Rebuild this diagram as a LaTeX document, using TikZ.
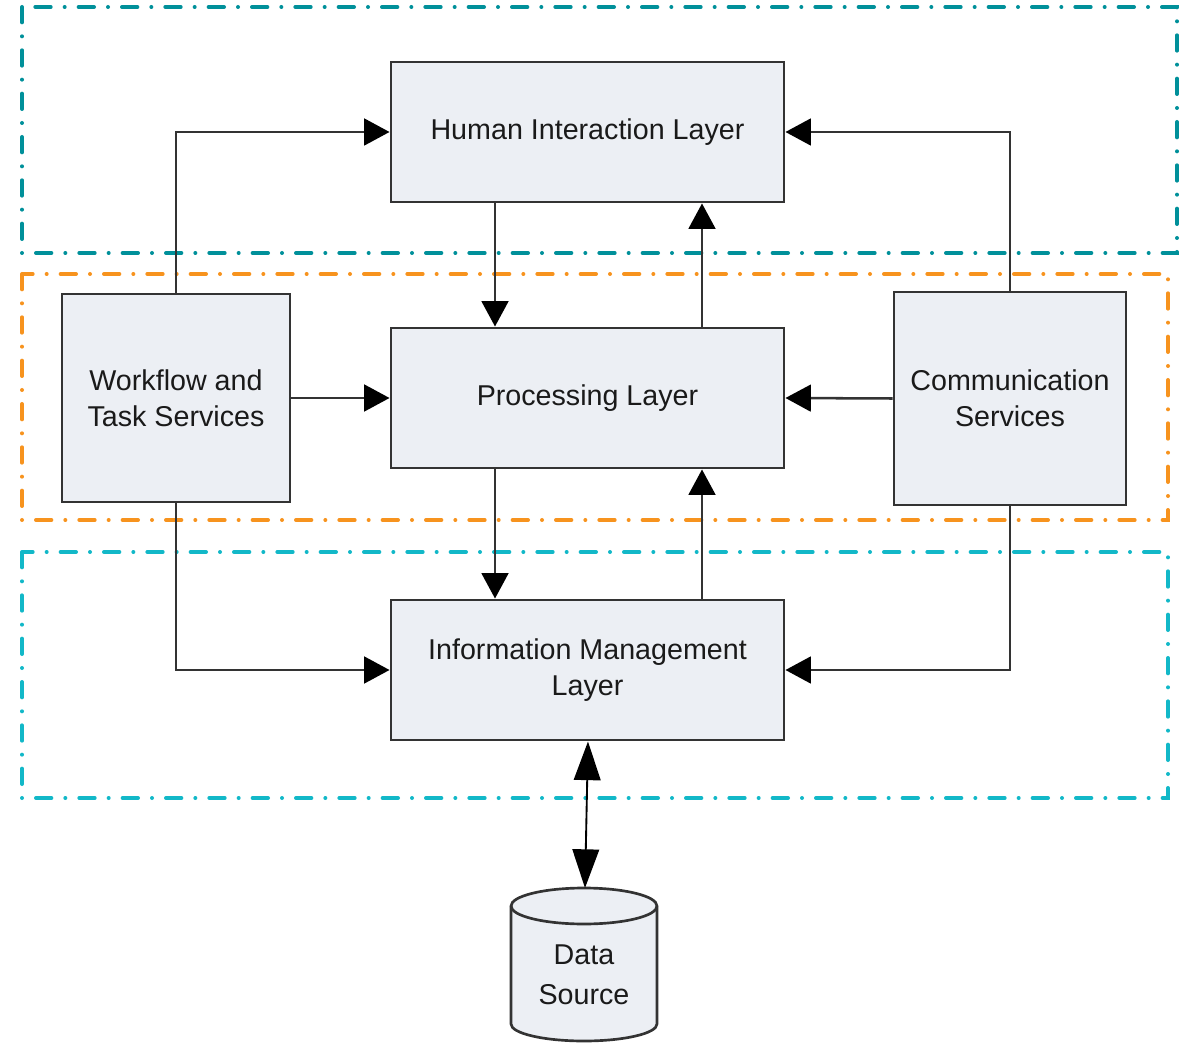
\documentclass[tikz,border=0pt]{standalone}
\usepackage{fontspec}
\setmainfont{Liberation Sans}
\usetikzlibrary{arrows.meta}
\definecolor{boxfill}{HTML}{ECEFF4}
\definecolor{boxline}{HTML}{333333}
\definecolor{teal1}{HTML}{00909A}
\definecolor{orange1}{HTML}{F7931E}
\definecolor{cyan1}{HTML}{12B8C8}
\definecolor{txt}{HTML}{1A1A1A}
\begin{document}
\begin{tikzpicture}[x=0.75pt,y=-0.75pt,
  layerbox/.style={draw=boxline,fill=boxfill,line width=2.2pt,
    text=txt,align=center,font=\fontsize{21.5}{27}\selectfont,inner sep=0pt},
  frame/.style={line width=3pt,line cap=round,
    dash pattern=on 11.5pt off 10.5pt on 0pt off 10.5pt},
  conn/.style={draw=boxline,line width=1.9pt,
    -{Triangle[length=19pt,width=20pt,color=black]}},
  dbl/.style={draw=black,line width=1.4pt,
    {Triangle[length=29pt,width=20pt]}-{Triangle[length=29pt,width=20pt]}}]
\useasboundingbox (0,0) rectangle (1185,1044);
% frames
\draw[frame,teal1] (22,7) rectangle (1177,253);
\draw[frame,orange1] (22,274) rectangle (1168,520);
\draw[frame,cyan1] (22,552) rectangle (1168,798);
% boxes
\node[layerbox,minimum width=393*0.75pt,minimum height=140*0.75pt] (hil) at (587.5,132) {Human Interaction Layer};
\node[layerbox,minimum width=393*0.75pt,minimum height=140*0.75pt] (pl) at (587.5,398) {Processing Layer};
\node[layerbox,minimum width=393*0.75pt,minimum height=140*0.75pt] (iml) at (587.5,670) {Information Management\\Layer};
\node[layerbox,minimum width=228*0.75pt,minimum height=208*0.75pt] (wf) at (176,398) {Workflow and\\Task Services};
\node[layerbox,minimum width=232*0.75pt,minimum height=213*0.75pt] (cs) at (1010,398.5) {Communication\\Services};
% cylinder
\coordinate (dstop) at (585,888);
\filldraw[draw=boxline,fill=boxfill,line width=2pt]
  (511,906) -- (511,1024) arc[start angle=180,end angle=0,x radius=73,y radius=17] -- (657,906)
  arc[start angle=0,end angle=-180,x radius=73,y radius=18] -- cycle;
\draw[draw=boxline,line width=2pt] (511,906) arc[start angle=180,end angle=0,x radius=73,y radius=18];
\node[text=txt,align=center,font=\fontsize{21.5}{30}\selectfont] (ds) at (584,975) {Data\\Source};
% connectors
\draw[conn] (wf.north) |- (hil.west);
\draw[conn] (cs.north) |- (hil.east);
\draw[conn] (hil.south -| 495,0) -- (pl.north -| 495,0);
\draw[conn] (pl.north -| 702,0) -- (hil.south -| 702,0);
\draw[conn] (wf.east) -- (pl.west);
\draw[conn] (cs.west) -- (pl.east);
\draw[conn] (pl.south -| 495,0) -- (iml.north -| 495,0);
\draw[conn] (iml.north -| 702,0) -- (pl.south -| 702,0);
\draw[conn] (wf.south) |- (iml.west);
\draw[conn] (cs.south) |- (iml.east);
\draw[dbl] (iml.south -| 588,0) -- (dstop);
\end{tikzpicture}
\end{document}
